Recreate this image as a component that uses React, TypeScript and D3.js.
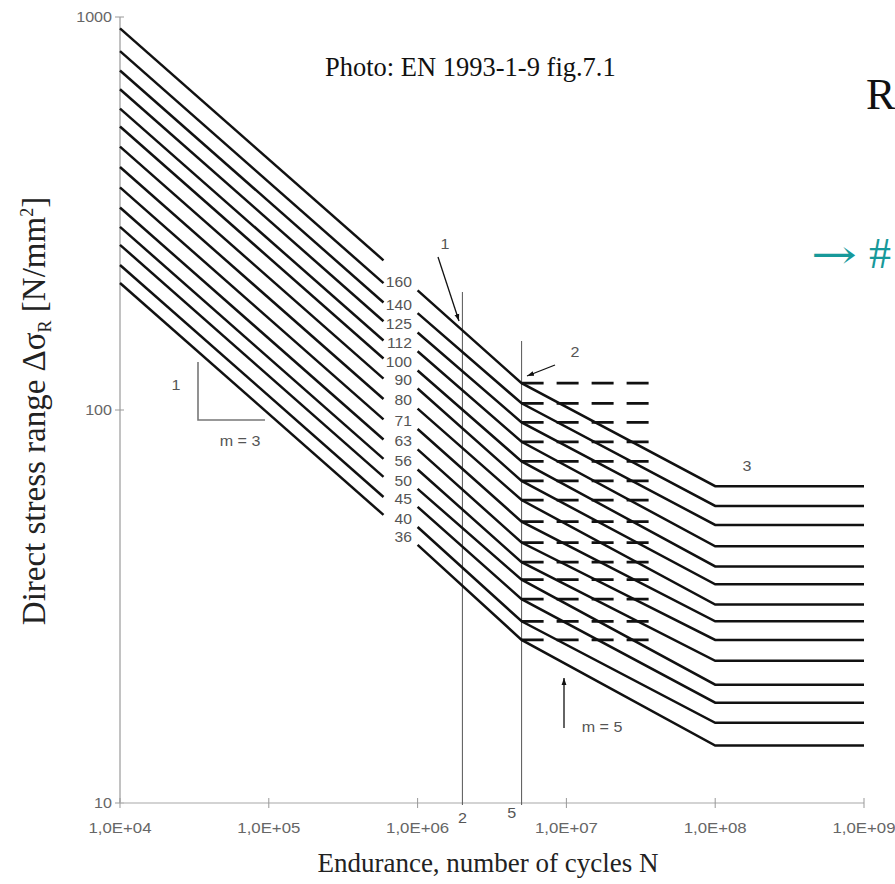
import React from "react";
import * as d3 from "d3";

// Detail categories (Δσc at N = 2·10^6), constant amplitude fatigue limits (N = 5·10^6)
// and cut-off limits (N = 10^8)
const categories = [160, 140, 125, 112, 100, 90, 80, 71, 63, 56, 50, 45, 40, 36];
const fatigueLimits = [117, 104, 93, 83, 74, 66, 59, 52, 46, 41, 37, 33, 29, 26];
const cutoffLimits = [64, 57, 51, 45, 40, 36, 32, 29, 26, 23, 20, 18, 16, 14];

const xTicks = [1e4, 1e5, 1e6, 1e7, 1e8, 1e9];
const xTickLabels = ["1,0E+04", "1,0E+05", "1,0E+06", "1,0E+07", "1,0E+08", "1,0E+09"];
const yTicks = [10, 100, 1000];
const yTickLabels = ["10", "100", "1000"];

// Break points in N
const N_START = 1e4;
const N_LEFT_END = 5.9e5;
const N_RIGHT_START = 1e6;
const N_C = 2e6;
const N_D = 5e6;
const N_L = 1e8;
const N_END = 1e9;
const N_DASH_END = 3.7e7;
const N_LABEL = 7.0e5;
const SLOPE_M1 = 3;

const W = 895;
const H = 884;

const x = d3.scaleLog().domain([1e4, 1e9]).range([120, 864]);
const y = d3.scaleLog().domain([10, 1000]).range([803, 17]);

const m3 = (c: number, n: number) => c * Math.pow(N_C / n, 1 / SLOPE_M1);

const line = d3
  .line<[number, number]>()
  .x((d) => x(d[0]))
  .y((d) => y(d[1]));

const serif = "'Liberation Serif', 'Times New Roman', serif";
const sans = "'Liberation Sans', Arial, sans-serif";

function SText({
  px,
  py,
  children,
  anchor = "middle",
  size = 14,
  sx = 1.15,
  fill = "#555",
}: any) {
  return (
    <text
      transform={`translate(${px},${py}) scale(${sx},1)`}
      textAnchor={anchor}
      fontFamily={sans}
      fontSize={size}
      fill={fill}
    >
      {children}
    </text>
  );
}

export default function App() {
  const xAxisY = y(10);
  return (
    <svg
      width={W}
      height={H}
      viewBox={`0 0 ${W} ${H}`}
      style={{ position: "absolute", left: 0, top: 0, background: "#fff" }}
    >
      <defs>
        <marker id="ah" viewBox="0 0 10 10" refX="10" refY="5" markerWidth="7" markerHeight="9" orient="auto" markerUnits="userSpaceOnUse">
          <path d="M0,1.5 L10,5 L0,8.5 z" fill="#111" />
        </marker>
      </defs>
      <rect width={W} height={H} fill="#fff" />

      {/* Caption */}
      <text x={325} y={76} fontFamily={serif} fontSize={26.5} fill="#111">
        Photo: EN 1993-1-9 fig.7.1
      </text>
      <text x={866} y={109} fontFamily={serif} fontSize={44} fill="#111">
        R
      </text>
      <text x={811} y={268} fontFamily="'DejaVu Serif', serif" fontSize={40} fill="#17999a" textLength={46} lengthAdjust="spacingAndGlyphs">
        →
      </text>
      <text x={869} y={268} fontFamily={serif} fontSize={44} fill="#17999a">
        #
      </text>

      {/* Y axis */}
      <line x1={x(1e4)} x2={x(1e4)} y1={y(1000)} y2={xAxisY} stroke="#999" strokeWidth={1.2} />
      {yTicks.map((t, i) => (
        <g key={t}>
          <line x1={x(1e4) - 5} x2={x(1e4) + 4} y1={y(t)} y2={y(t)} stroke="#999" strokeWidth={1} />
          <SText px={x(1e4) - 8} py={y(t) + 5} anchor="end" fill="#666">
            {yTickLabels[i]}
          </SText>
        </g>
      ))}

      {/* X axis */}
      <line x1={x(1e4)} x2={x(1e9)} y1={xAxisY} y2={xAxisY} stroke="#c4c4c4" strokeWidth={1.5} />
      {xTicks.map((t, i) => (
        <g key={t}>
          <line x1={x(t)} x2={x(t)} y1={xAxisY - 5} y2={xAxisY + 5} stroke="#999" strokeWidth={1} />
          <SText px={x(t)} py={xAxisY + 30} fill="#666" sx={1.2}>
            {xTickLabels[i]}
          </SText>
        </g>
      ))}

      {/* Axis titles */}
      <text
        transform={`translate(45,${411}) rotate(-90)`}
        textAnchor="middle"
        fontFamily={serif}
        fontSize={33}
        fill="#222"
      >
        Direct stress range Δσ
        <tspan fontSize={18} dy={6}>R</tspan>
        <tspan dy={-6}> [N/mm</tspan>
        <tspan fontSize={18} dy={-12}>2</tspan>
        <tspan dy={12}>]</tspan>
      </text>
      <text x={488} y={872} textAnchor="middle" fontFamily={serif} fontSize={27} fill="#222">
        Endurance, number of cycles N
      </text>

      {/* Vertical reference lines at 2·10^6 and 5·10^6 */}
      <line x1={x(N_C)} x2={x(N_C)} y1={292} y2={xAxisY + 2} stroke="#555" strokeWidth={1} />
      <line x1={x(N_D)} x2={x(N_D)} y1={341} y2={xAxisY + 2} stroke="#555" strokeWidth={1} />
      <SText px={x(N_C)} py={xAxisY + 20}>2</SText>
      <SText px={x(N_D) - 10} py={xAxisY + 15}>5</SText>

      {/* S-N curves */}
      {categories.map((c, i) => {
        const left: [number, number][] = [
          [N_START, m3(c, N_START)],
          [N_LEFT_END, m3(c, N_LEFT_END)],
        ];
        const right: [number, number][] = [
          [N_RIGHT_START, m3(c, N_RIGHT_START)],
          [N_D, fatigueLimits[i]],
          [N_L, cutoffLimits[i]],
          [N_END, cutoffLimits[i]],
        ];
        const dash: [number, number][] = [
          [N_D, fatigueLimits[i]],
          [N_DASH_END, fatigueLimits[i]],
        ];
        return (
          <g key={c}>
            <path d={line(left) || ""} fill="none" stroke="#111" strokeWidth={2.5} />
            <path d={line(right) || ""} fill="none" stroke="#111" strokeWidth={2.5} strokeLinejoin="miter" />
            <path d={line(dash) || ""} fill="none" stroke="#111" strokeWidth={2.7} strokeDasharray="22 13" />
            <SText px={412} py={y(m3(c, N_LABEL)) + 17} anchor="end" sx={1.12}>
              {String(c)}
            </SText>
          </g>
        );
      })}

      {/* Slope triangle m = 3 */}
      <path d="M198,362 L198,420 L265,420" fill="none" stroke="#777" strokeWidth={1.6} />
      <SText px={176} py={390}>1</SText>
      <SText px={240} py={446}>m = 3</SText>

      {/* Annotation 1 */}
      <SText px={445} py={249}>1</SText>
      <line x1={438} y1={257} x2={459} y2={321} stroke="#111" strokeWidth={1.3} markerEnd="url(#ah)" />

      {/* Annotation 2 */}
      <SText px={575} py={357}>2</SText>
      <line x1={555} y1={365} x2={527} y2={376} stroke="#111" strokeWidth={1.3} markerEnd="url(#ah)" />

      {/* Annotation 3 */}
      <SText px={747} py={471}>3</SText>

      {/* m = 5 arrow */}
      <line x1={564} y1={728} x2={564} y2={678} stroke="#111" strokeWidth={1.3} markerEnd="url(#ah)" />
      <SText px={602} py={732}>m = 5</SText>
    </svg>
  );
}
